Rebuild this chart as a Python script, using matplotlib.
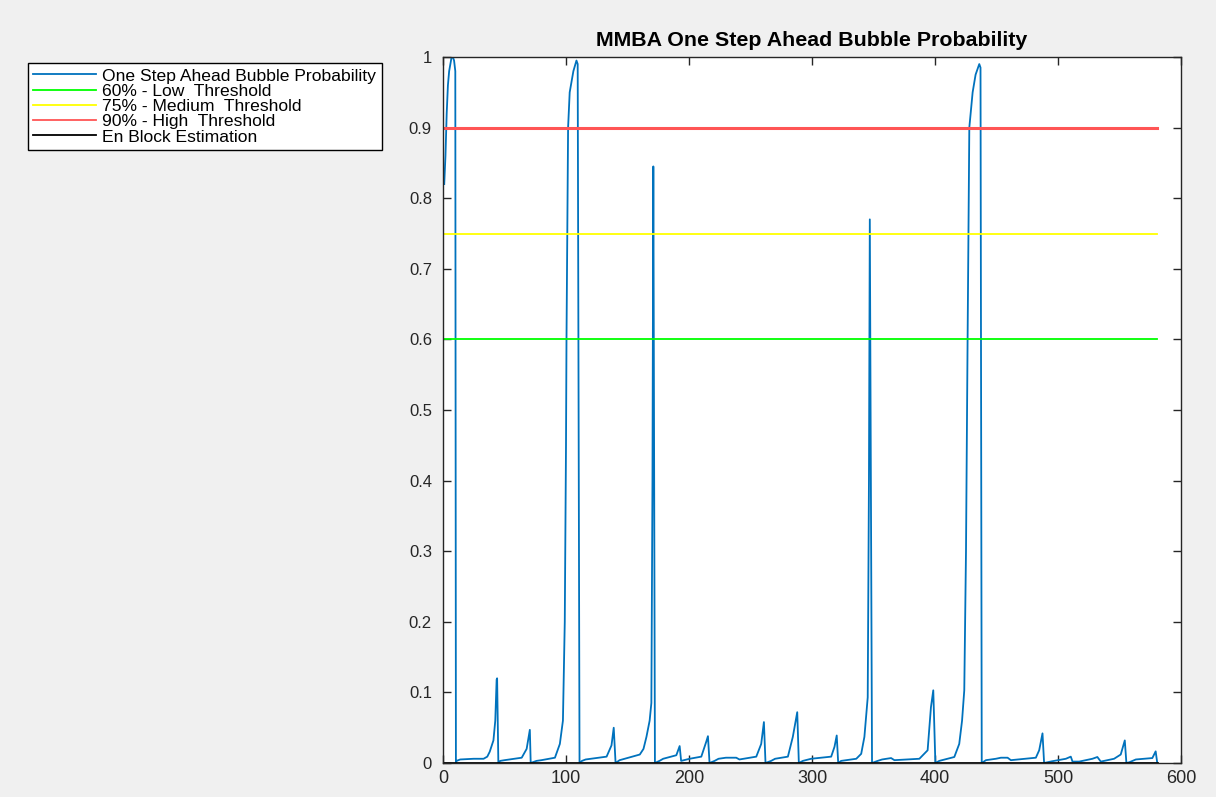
import matplotlib.pyplot as plt

plt.rcParams['font.family'] = ['Liberation Sans', 'DejaVu Sans']

# one step ahead bubble probability (vertices)
step = [1, 2, 3, 4, 5, 6, 7, 8, 9, 10, 10.5,
        11, 14, 25, 33, 36, 38, 41, 42.5, 43.6, 44, 45,
        46.5, 50, 64, 68, 70.6, 71.3,
        76, 80, 91, 95, 97.5, 99, 100, 100.4, 101.7, 103, 106, 108.5, 109.5, 111,
        113, 116, 133, 137, 138.8, 140.3,
        143.6, 160, 163, 165.4, 168, 169.4, 170.3, 171, 172.3,
        176, 179, 189.7, 192.4, 193.6,
        200.5, 210, 214, 215.4, 216.7,
        220.8, 224, 230, 238.4, 241, 254.7, 258.7, 260.9, 262.2,
        266.8, 270, 280.4, 284.4, 288, 289.3,
        292.6, 299.3, 315.6, 318.3, 320.1, 321.3,
        323.7, 336, 340, 342.6, 345.3, 346.3, 347, 348.8,
        353.4, 357, 364.3, 367, 387.3, 394, 396.7, 398.6, 400.3,
        403.5, 415.7, 419.7, 422, 423.8, 425.2, 426.5, 427.9, 430.6, 433, 436, 437, 438,
        441.4, 449.5, 453.6, 459, 461.7, 482, 484.7, 487.4, 488.7,
        491.4, 495, 506.4, 510.4, 511.8, 517.2, 528, 532, 534.8, 545.6, 551, 554.3, 555.6,
        557.9, 563.3, 576.7, 579.4, 580.7]
prob = [0.82, 0.86, 0.92, 0.96, 0.98, 0.99, 1.0, 1.0, 0.995, 0.98, 0.0,
        0.003, 0.005, 0.006, 0.006, 0.009, 0.016, 0.032, 0.06, 0.118, 0.12, 0.0,
        0.003, 0.004, 0.0075, 0.02, 0.047, 0.0,
        0.003, 0.004, 0.0075, 0.027, 0.06, 0.2, 0.45, 0.6, 0.9, 0.95, 0.98, 0.995, 0.99, 0.0,
        0.003, 0.005, 0.009, 0.025, 0.05, 0.0,
        0.004, 0.012, 0.02, 0.037, 0.06, 0.085, 0.4, 0.845, 0.0,
        0.003, 0.006, 0.011, 0.024, 0.003,
        0.006, 0.009, 0.03, 0.038, 0.0,
        0.003, 0.006, 0.0075, 0.0075, 0.005, 0.009, 0.027, 0.058, 0.0,
        0.003, 0.006, 0.009, 0.037, 0.072, 0.0,
        0.003, 0.006, 0.009, 0.023, 0.039, 0.0,
        0.003, 0.006, 0.013, 0.037, 0.093, 0.4, 0.77, 0.0,
        0.003, 0.005, 0.007, 0.004, 0.006, 0.018, 0.079, 0.103, 0.0,
        0.003, 0.0085, 0.027, 0.06, 0.103, 0.3, 0.6, 0.9, 0.95, 0.975, 0.99, 0.985, 0.0,
        0.004, 0.006, 0.0075, 0.0075, 0.004, 0.0075, 0.018, 0.042, 0.0,
        0.001, 0.0024, 0.006, 0.009, 0.002, 0.002, 0.006, 0.0085, 0.002, 0.006, 0.012, 0.032, 0.0,
        0.001, 0.005, 0.007, 0.0165, 0.0]

thresholds = [0.6, 0.75, 0.9]
threshold_labels = ['60% - Low  Threshold', '75% - Medium  Threshold', '90% - High  Threshold']
threshold_colors = ['#00ff00', '#ffff00', '#ff5555']
threshold_widths = [1.3, 1.3, 2.2]
en_block = 0.0

fig = plt.figure(figsize=(12.16, 7.97), dpi=100, facecolor='#f0f0f0')
ax = fig.add_axes([443/1216, 1 - 763/797, (1181 - 443)/1216, (763 - 57)/797])

n_end = step[-1]
ax.plot(step, prob, color='#0072bd', lw=1.3, label='One Step Ahead Bubble Probability')
for t, lab, c, w in zip(thresholds, threshold_labels, threshold_colors, threshold_widths):
    ax.plot([0, n_end], [t, t], color=c, lw=w, label=lab)
ax.plot([0, n_end], [en_block, en_block], color='black', lw=2.0, label='En Block Estimation')

ax.set_xlim(0, 600)
ax.set_ylim(0, 1)
ax.set_xticks(range(0, 601, 100))
ax.set_yticks([i / 10 for i in range(11)])
ax.set_yticklabels(['0', '0.1', '0.2', '0.3', '0.4', '0.5', '0.6', '0.7', '0.8', '0.9', '1'])
ax.tick_params(direction='in', top=True, right=True, colors='#262626', length=6, width=1)
ax.tick_params(axis='x', pad=5, labelsize=13)
ax.tick_params(axis='y', pad=8, labelsize=12)
for s in ax.spines.values():
    s.set_linewidth(1.0)
    s.set_color('#262626')

ax.set_title('MMBA One Step Ahead Bubble Probability', fontsize=15.4, fontweight='bold', pad=8)

leg = fig.legend(loc='upper left', bbox_to_anchor=(28/1216, 1 - 63/797), fontsize=12.6,
                 handlelength=3.6, handletextpad=0.35, labelspacing=0.0, borderpad=0.3,
                 borderaxespad=0, fancybox=False, framealpha=1, edgecolor='black')
leg.get_frame().set_linewidth(1.0)
for h in leg.get_lines():
    h.set_linewidth(1.3)

fig.savefig('out.png', dpi=100, facecolor=fig.get_facecolor())
